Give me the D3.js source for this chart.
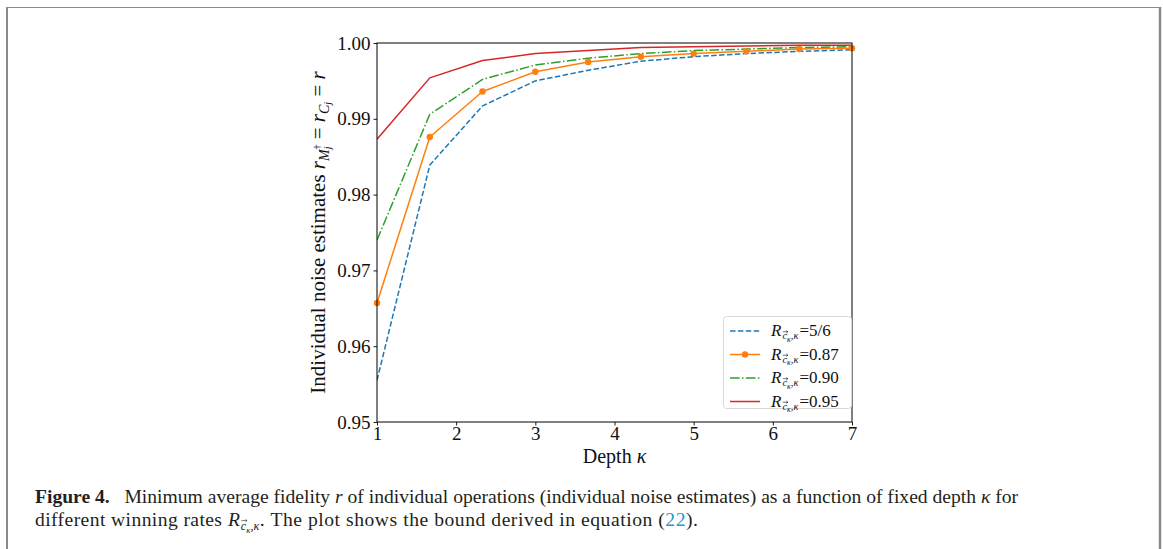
<!DOCTYPE html>
<html>
<head>
<meta charset="utf-8">
<script src="https://cdn.jsdelivr.net/npm/d3@7"></script>
<style>
  html, body { margin: 0; padding: 0; background: #fff; }
  svg { display: block; }
</style>
</head>
<body>
<svg id="chart" width="1163" height="549"></svg>
<script>
// ---- data ----
const depth = [1, 1.667, 2.333, 3, 3.667, 4.333, 5, 5.667, 6.333, 7];
const rate56 = [0.9555, 0.9839, 0.9917, 0.9950, 0.9964, 0.9976, 0.9982, 0.9986, 0.9989, 0.9991];
const rate087 = [0.9657, 0.9876, 0.9936, 0.9962, 0.9975, 0.9982, 0.9986, 0.9989, 0.9992, 0.9993];
const rate090 = [0.9740, 0.9906, 0.9952, 0.9971, 0.9980, 0.9986, 0.9990, 0.9992, 0.9994, 0.9995];
const rate095 = [0.9873, 0.9954, 0.9977, 0.9986, 0.9990, 0.9994, 0.9995, 0.9996, 0.9997, 0.9997];
const seriesLabels = ["5/6", "0.87", "0.90", "0.95"];
const xTicks = [1, 2, 3, 4, 5, 6, 7];
const yTicks = [0.95, 0.96, 0.97, 0.98, 0.99, 1.00];

const series = [
  { values: rate56, label: seriesLabels[0], color: "#1f77b4", dash: "5.5,2.4", marker: false },
  { values: rate087, label: seriesLabels[1], color: "#ff7f0e", dash: null, marker: true },
  { values: rate090, label: seriesLabels[2], color: "#2ca02c", dash: "9.6,2.4,1.5,2.4", marker: false },
  { values: rate095, label: seriesLabels[3], color: "#d62728", dash: null, marker: false }
];

const svg = d3.select("#chart");
const serif = "'Liberation Serif', 'DejaVu Serif', serif";

// page frame
svg.append("line").attr("x1", 6).attr("x2", 1161).attr("y1", 7.5).attr("y2", 7.5)
  .attr("stroke", "#8a8a8a").attr("stroke-width", 1);
svg.append("line").attr("x1", 7).attr("x2", 7).attr("y1", 7).attr("y2", 549)
  .attr("stroke", "#8a8a8a").attr("stroke-width", 2);
svg.append("line").attr("x1", 1160).attr("x2", 1160).attr("y1", 7).attr("y2", 549)
  .attr("stroke", "#8a8a8a").attr("stroke-width", 2.5);

const L = 377, R = 852, T = 43, B = 422;
const x = d3.scaleLinear().domain([1, 7]).range([L, R]);
const y = d3.scaleLinear().domain([0.95, 1.0]).range([B, T]);

const g = svg.append("g");

svg.append("defs").append("clipPath").attr("id", "clip")
  .append("rect").attr("x", L).attr("y", T - 2).attr("width", R - L + 2).attr("height", B - T + 2);

const line = d3.line().x((d, i) => x(depth[i])).y(d => y(d));
const plot = g.append("g").attr("clip-path", "url(#clip)");
series.forEach(s => {
  plot.append("path").datum(s.values)
    .attr("d", line)
    .attr("fill", "none")
    .attr("stroke", s.color)
    .attr("stroke-width", 1.5)
    .attr("stroke-dasharray", s.dash)
    .attr("stroke-linejoin", "round");
  if (s.marker) {
    g.append("g").selectAll("circle").data(s.values).join("circle")
      .attr("cx", (d, i) => x(depth[i])).attr("cy", d => y(d))
      .attr("r", 3.2).attr("fill", s.color);
  }
});

// axes
const yAxis = d3.axisLeft(y).tickValues(yTicks).tickFormat(d3.format(".2f")).tickSize(3.5).tickPadding(3);
const xAxis = d3.axisBottom(x).tickValues(xTicks).tickFormat(d3.format("d")).tickSize(3.5).tickPadding(3);
const ya = g.append("g").attr("transform", `translate(${L},0)`).call(yAxis);
const xa = g.append("g").attr("transform", `translate(0,${B})`).call(xAxis);
[ya, xa].forEach(a => {
  a.select(".domain").remove();
  a.selectAll("line").attr("stroke", "#000").attr("stroke-width", 0.9);
  a.selectAll("text").attr("font-family", serif).attr("font-size", 19).attr("fill", "#111");
});
xa.selectAll("text").attr("dy", "0.6em");
g.append("rect").attr("x", L).attr("y", T).attr("width", R - L).attr("height", B - T)
  .attr("fill", "none").attr("stroke", "#000").attr("stroke-width", 1);

// x label
const xl = svg.append("text").attr("x", (L + R) / 2).attr("y", 463)
  .attr("text-anchor", "middle").attr("font-family", serif).attr("font-size", 20).attr("fill", "#111");
xl.append("tspan").text("Depth ");
xl.append("tspan").attr("font-style", "italic").text("κ");

// y label
const yl = svg.append("text").attr("transform", `translate(325,${(T + B) / 2}) rotate(-90)`)
  .attr("text-anchor", "middle").attr("font-family", serif).attr("font-size", 21).attr("fill", "#111");
yl.append("tspan").text("Individual noise estimates ");
yl.append("tspan").attr("font-style", "italic").text("r");
yl.append("tspan").attr("font-style", "italic").attr("font-size", 14).attr("dy", 4).text("M");
yl.append("tspan").attr("font-style", "italic").attr("font-size", 10).attr("dy", 2).text("j");
yl.append("tspan").attr("font-size", 10).attr("dy", -10).attr("dx", -3).text("†");
yl.append("tspan").attr("dy", 4).text(" = ");
yl.append("tspan").attr("font-style", "italic").text("r");
yl.append("tspan").attr("font-style", "italic").attr("font-size", 14).attr("dy", 4).text("C");
yl.append("tspan").attr("font-style", "italic").attr("font-size", 10).attr("dy", 2).text("j");
yl.append("tspan").attr("dy", -6).text(" = ");
yl.append("tspan").attr("font-style", "italic").text("r");

// helper: draw R with subscript c-vector(kappa),kappa
function rateSymbol(parent, xPos, yPos, size, color, tail) {
  const t = parent.append("text").attr("x", xPos).attr("y", yPos)
    .attr("font-family", serif).attr("font-size", size).attr("fill", color);
  const sub = size * 0.62, subsub = size * 0.45;
  t.append("tspan").attr("font-style", "italic").text("R");
  t.append("tspan").attr("font-style", "italic").attr("font-size", sub).attr("dy", size * 0.2).attr("dx", 1).text("c");
  t.append("tspan").attr("font-style", "italic").attr("font-size", subsub).attr("dy", size * 0.14).text("κ");
  t.append("tspan").attr("font-style", "italic").attr("font-size", sub).attr("dy", -size * 0.14).text(",κ");
  if (tail) t.append("tspan").attr("dy", -size * 0.2).attr("dx", 1).text(tail);
  const ext = t.node().getExtentOfChar(1);
  const ax0 = ext.x + 0.5, ax1 = ext.x + ext.width + 0.8, ay = ext.y + ext.height * 0.12;
  parent.append("path")
    .attr("d", `M${ax0},${ay}L${ax1},${ay}M${ax1 - 1.6},${ay - 1.3}L${ax1},${ay}L${ax1 - 1.6},${ay + 1.3}`)
    .attr("stroke", color).attr("stroke-width", 0.6).attr("fill", "none");
  return t;
}

// legend
const lg = svg.append("g");
lg.append("rect").attr("x", 723.5).attr("y", 316.5).attr("width", 128).attr("height", 92).attr("rx", 3)
  .attr("fill", "#fff").attr("fill-opacity", 0.8).attr("stroke", "#d8d8d8").attr("stroke-width", 1);
series.forEach((s, i) => {
  const cy = 331 + i * 23.5;
  lg.append("line").attr("x1", 730).attr("x2", 760).attr("y1", cy).attr("y2", cy)
    .attr("stroke", s.color).attr("stroke-width", 1.5).attr("stroke-dasharray", s.dash);
  if (s.marker) lg.append("circle").attr("cx", 745).attr("cy", cy).attr("r", 3.2).attr("fill", s.color);
  rateSymbol(lg, 771, cy + 5, 17, "#111", "=" + s.label);
});

// caption
const capColor = "#231f20";
const capSize = 19.6;
const c1 = svg.append("text").attr("x", 35).attr("y", 503)
  .attr("font-family", serif).attr("font-size", capSize).attr("fill", capColor);
c1.append("tspan").attr("font-weight", "bold").text("Figure 4.");
c1.append("tspan").text("\u2002 Minimum average fidelity ");
c1.append("tspan").attr("font-style", "italic").text("r");
c1.append("tspan").text(" of individual operations (individual noise estimates) as a function of fixed depth ");
c1.append("tspan").attr("font-style", "italic").text("κ");
c1.append("tspan").text(" for");

const stretch = 1.05;
const c2g = svg.append("g");
const c2a = c2g.append("text").attr("x", 35).attr("y", 526)
  .attr("font-family", serif).attr("font-size", capSize).attr("fill", capColor).text("different winning rates");
const n2a = c2a.node().getComputedTextLength();
c2a.attr("textLength", n2a * stretch).attr("lengthAdjust", "spacing");
const w2a = n2a * stretch + capSize * 0.3;
const c2b = rateSymbol(c2g, 35 + w2a, 526, capSize, capColor, "");
const w2b = c2b.node().getComputedTextLength();
const c2c = c2g.append("text").attr("x", 35 + w2a + w2b + 1.5).attr("y", 526)
  .attr("font-family", serif).attr("font-size", capSize).attr("fill", capColor);
c2c.append("tspan").text(". The plot shows the bound derived in equation (");
c2c.append("tspan").attr("fill", "#1a9ad6").text("22");
c2c.append("tspan").text(").");
const n2c = c2c.node().getComputedTextLength();
const start2c = 35 + w2a + w2b + 1.5;
c2c.attr("textLength", Math.max(n2c, 698 - start2c)).attr("lengthAdjust", "spacing");
</script>
</body>
</html>
